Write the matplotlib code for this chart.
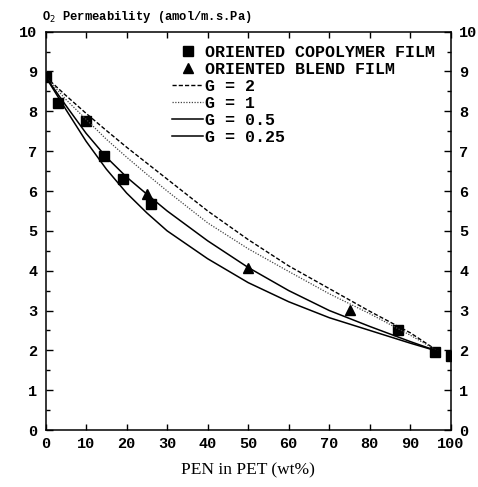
import numpy as np
import matplotlib
matplotlib.use("Agg")
import matplotlib.pyplot as plt
from matplotlib.ticker import MultipleLocator

# measured permeabilities
copo_x = [0, 3, 10, 14.5, 19, 26, 87, 96, 100]
copo_y = [8.87, 8.2, 7.75, 6.88, 6.3, 5.67, 2.5, 1.97, 1.85]
blend_x = [25, 50, 75]
blend_y = [5.92, 4.07, 3.02]

# model curves for different G
curve_x = [0, 5, 10, 15, 20, 25, 30, 40, 50, 60, 70, 80, 90, 97]
g2 = [8.87, 8.4, 7.95, 7.52, 7.1, 6.7, 6.3, 5.5, 4.78, 4.12, 3.55, 2.98, 2.44, 1.97]
g1 = [8.87, 8.3, 7.8, 7.3, 6.85, 6.42, 6.0, 5.2, 4.55, 3.98, 3.42, 2.92, 2.38, 1.97]
g05 = [8.87, 8.15, 7.45, 6.85, 6.35, 5.92, 5.5, 4.75, 4.08, 3.5, 3.0, 2.6, 2.22, 1.97]
g025 = [8.87, 8.05, 7.25, 6.55, 5.95, 5.45, 5.0, 4.3, 3.7, 3.22, 2.82, 2.5, 2.18, 1.97]

xticks = np.arange(0, 101, 10)
yticks = np.arange(0, 11, 1)

mono = 'Liberation Mono'

fig = plt.figure(figsize=(4.78, 4.87), dpi=100)
ax = fig.add_axes([0.0952, 0.117, 0.848, 0.818])

ax.plot(copo_x, copo_y, 's', color='black', ms=7, ls='none',
        label='ORIENTED COPOLYMER FILM')
ax.plot(blend_x, blend_y, '^', color='black', ms=7, ls='none',
        label='ORIENTED BLEND FILM')
ax.plot(curve_x, g2, color='black', lw=1.0, ls=(0, (3, 1.5)), label='G = 2')
ax.plot(curve_x, g1, color='#444444', lw=0.9, ls=(0, (1, 1.2)), label='G = 1')
ax.plot(curve_x, g05, color='black', lw=1.1, label='G = 0.5')
ax.plot(curve_x, g025, color='black', lw=1.1, label='G = 0.25')

ax.set_xlim(0, 100)
ax.set_ylim(0, 10)
ax.set_xticks(xticks)
ax.set_yticks(yticks)
ax.yaxis.set_minor_locator(MultipleLocator(0.5))

ax.tick_params(axis='both', which='both', direction='in', top=True, right=True)
ax.tick_params(axis='y', which='major', length=5, width=1, labelright=True, pad=6)
ax.tick_params(axis='y', which='minor', length=3, width=1)
ax.tick_params(axis='x', which='major', length=4, width=1, pad=5)

for t in ax.xaxis.get_major_ticks() + ax.yaxis.get_major_ticks():
    for lab in (t.label1, t.label2):
        lab.set_fontfamily(mono)
        lab.set_fontweight('bold')
        lab.set_fontsize(11)

for s in ax.spines.values():
    s.set_linewidth(1.1)

ax.set_xlabel('PEN in PET (wt%)', fontfamily='Liberation Serif', fontsize=12.5,
              labelpad=8)
fig.text(0.088, 0.965, 'O$_2$ Permeability (amol/m.s.Pa)', fontfamily=mono,
         fontweight='bold', fontsize=8.7, ha='left', va='center')

leg = ax.legend(loc='upper left', bbox_to_anchor=(172 / 478, 1 - 45 / 487),
                bbox_transform=fig.transFigure, frameon=False,
                prop={'family': mono, 'weight': 'bold', 'size': 12},
                handlelength=1.86, handletextpad=0.12, labelspacing=0.12,
                borderpad=0, borderaxespad=0, numpoints=1)

fig.savefig('out.png', dpi=100)
